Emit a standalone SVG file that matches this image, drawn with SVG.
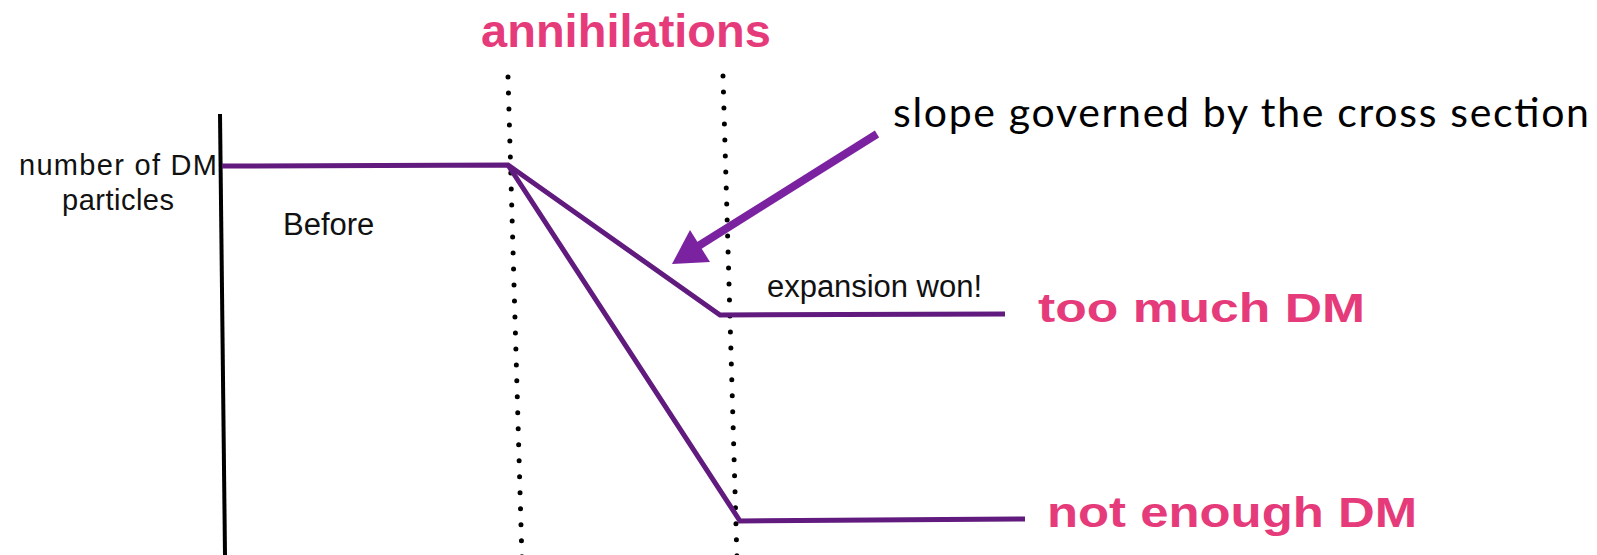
<svg xmlns="http://www.w3.org/2000/svg" width="1597" height="555" viewBox="0 0 1597 555">
<defs>
<style>
.lbl{font-family:"Liberation Sans",Arial,sans-serif;font-size:31px;fill:#111}
.ax{font-family:"Liberation Sans",Arial,sans-serif;font-size:29px;fill:#111}
.pink{font-family:"Liberation Sans",Arial,sans-serif;font-weight:bold;fill:#E63B7A}
.curve{fill:none;stroke:#611A7D;stroke-width:5;stroke-linejoin:miter}
.dots{fill:none;stroke:#000;stroke-width:5;stroke-linecap:round;stroke-dasharray:0 16}
</style>
</defs>
<rect width="1597" height="555" fill="#fff"/>
<g id="axis">
<line x1="220" y1="114" x2="225" y2="555" stroke="#000" stroke-width="4"/>
<text class="ax" x="118" y="175" text-anchor="middle" textLength="198">number of DM</text>
<text class="ax" x="118" y="210" text-anchor="middle" textLength="112">particles</text>
</g>
<g id="before"><text class="lbl" x="283" y="235">Before</text></g>
<g id="annihilations">
<text class="pink" x="626" y="47" font-size="47" text-anchor="middle">annihilations</text>
<line class="dots" x1="508" y1="77" x2="522" y2="560"/>
<line class="dots" x1="723" y1="76" x2="737" y2="560"/>
</g>
<g id="connectors">
<polyline class="curve" points="222,166 508,165 720,315 1005,314"/>
<polyline class="curve" points="508,165 740,521 1025,519"/>
<line x1="877" y1="134" x2="692" y2="250" stroke="#7B22A0" stroke-width="8"/>
<polygon points="672,264 690,230 710,262" fill="#7B22A0"/>
</g>
<g id="slope">
<text x="893" y="127" font-family="Lato,'Liberation Sans',sans-serif" font-size="41" fill="#000" textLength="696">slope governed by the cross section</text>
</g>
<g id="expansion"><text class="lbl" x="767" y="297" textLength="215">expansion won!</text></g>
<g id="too-much"><text class="pink" x="1038" y="322" font-size="41" textLength="327" lengthAdjust="spacingAndGlyphs">too much DM</text></g>
<g id="not-enough"><text class="pink" x="1047" y="527" font-size="42" textLength="370" lengthAdjust="spacingAndGlyphs">not enough DM</text></g>
</svg>
